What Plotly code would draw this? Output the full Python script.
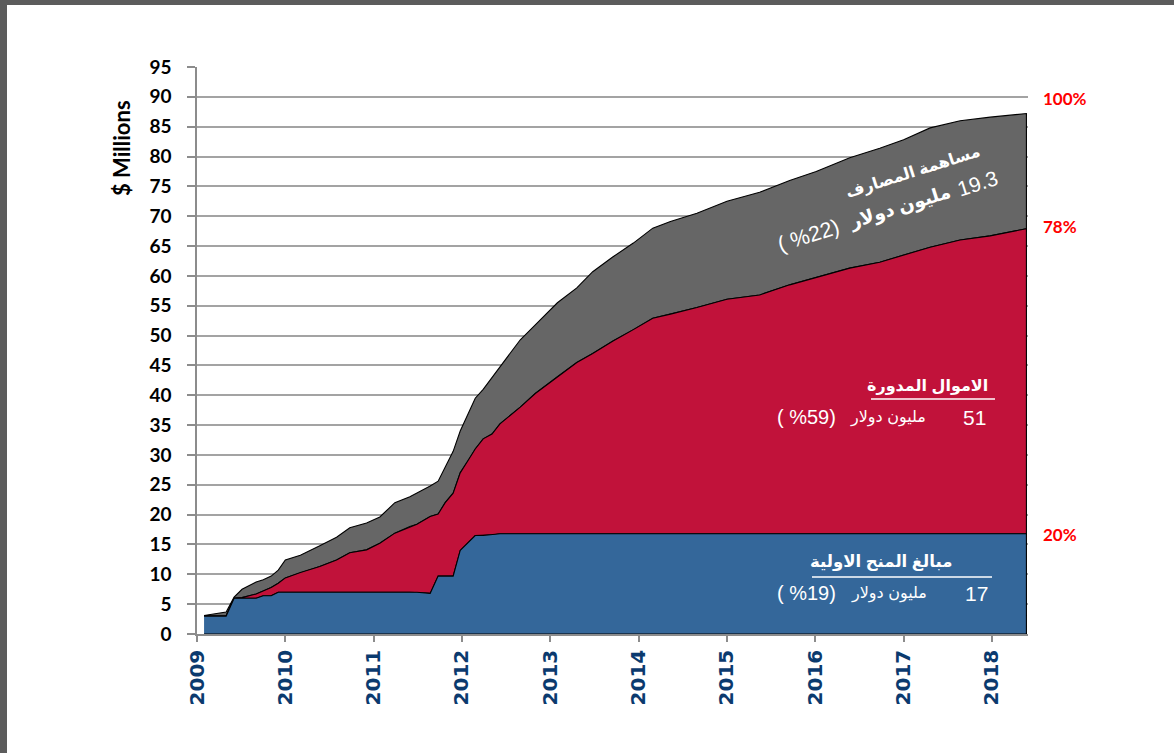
import plotly.graph_objects as go

# ---- data ----
years = [2009.08, 2009.17, 2009.33, 2009.42, 2009.51, 2009.67, 2009.75, 2009.84, 2009.92, 2010.0,
         2010.17, 2010.39, 2010.58, 2010.73, 2010.92, 2011.07, 2011.24, 2011.41, 2011.49, 2011.64,
         2011.73, 2011.81, 2011.90, 2011.98, 2012.07, 2012.15, 2012.24, 2012.34, 2012.43, 2012.66,
         2012.83, 2013.08, 2013.30, 2013.48, 2013.71, 2013.94, 2014.16, 2014.36, 2014.66, 2015.0,
         2015.37, 2015.71, 2016.01, 2016.39, 2016.73, 2017.0, 2017.30, 2017.64, 2017.98, 2018.39]

# cumulative level of the initial grants (blue)
grants_top = [3.0, 3.0, 3.0, 6.0, 6.0, 6.0, 6.4, 6.4, 7.0, 7.0,
              7.0, 7.0, 7.0, 7.0, 7.0, 7.0, 7.0, 7.0, 7.0, 6.8,
              9.7, 9.7, 9.7, 14.0, 15.3, 16.5, 16.5, 16.6, 16.8, 16.8,
              16.8, 16.8, 16.8, 16.8, 16.8, 16.8, 16.8, 16.8, 16.8, 16.8,
              16.8, 16.8, 16.8, 16.8, 16.8, 16.8, 16.8, 16.8, 16.8, 16.8]

# cumulative level incl. revolving funds (red)
revolving_top = [3.0, 3.0, 3.0, 6.0, 6.1, 6.7, 7.2, 7.8, 8.5, 9.4,
                 10.3, 11.3, 12.4, 13.6, 14.1, 15.2, 16.9, 18.0, 18.4, 19.7,
                 20.1, 22.0, 23.6, 27.0, 29.0, 31.0, 32.7, 33.5, 35.2, 38.0,
                 40.3, 43.1, 45.5, 47.0, 49.1, 51.0, 52.9, 53.6, 54.7, 56.1,
                 56.8, 58.5, 59.7, 61.3, 62.3, 63.5, 64.8, 66.0, 66.7, 67.9]

# cumulative level incl. bank contributions (gray)
banks_top = [3.1, 3.3, 3.7, 6.2, 7.5, 8.7, 9.1, 9.7, 10.7, 12.4,
             13.2, 14.8, 16.2, 17.8, 18.6, 19.6, 22.0, 23.0, 23.6, 24.8,
             25.6, 28.0, 30.6, 34.0, 37.0, 39.5, 41.0, 43.0, 44.8, 49.3,
             51.8, 55.5, 58.0, 60.7, 63.2, 65.5, 68.0, 69.1, 70.5, 72.5,
             74.0, 76.0, 77.5, 79.8, 81.4, 82.8, 84.8, 86.0, 86.6, 87.2]

baseline = [0.0] * len(years)

year_ticks = list(range(2009, 2019))
y_ticks = list(range(0, 100, 5))
pct_labels = ["100%", "78%", "20%"]

# ---- layout geometry ----
W, H = 1174, 753
L, R, T, B = 197, 146, 67, 119
PW, PH = W - L - R, H - T - B


def px(x):
    return (x - L) / PW


def py(y):
    return (H - B - y) / PH


fig = go.Figure()


def band(top, bottom, color):
    fig.add_trace(go.Scatter(
        x=years + years[::-1],
        y=top + bottom[::-1],
        fill="toself", fillcolor=color, mode="lines",
        line=dict(color="black", width=1.1),
        hoverinfo="skip", showlegend=False))


band(banks_top, revolving_top, "#666666")
band(revolving_top, grants_top, "#C1123A")
band(grants_top, baseline, "#34679A")

fig.update_layout(
    width=W, height=H,
    margin=dict(l=L, r=R, t=T, b=B),
    paper_bgcolor="white", plot_bgcolor="white",
    showlegend=False,
    xaxis=dict(range=[2009, 2009 + 831 / 88.33], tickvals=year_ticks,
               ticktext=[str(y) for y in year_ticks], tickangle=-90,
               tickfont=dict(family="DejaVu Sans", size=20, color="#0B3A6E", weight="bold"),
               showgrid=False, zeroline=False, showline=True, linecolor="#8C8C8C", linewidth=1.5,
               ticks="outside", ticklen=6, tickcolor="#8C8C8C", tickwidth=1.5),
    yaxis=dict(range=[0, 95], tickvals=y_ticks,
               tickfont=dict(family="Lato", size=19, color="black", weight="bold"),
               showgrid=True, gridcolor="#A3A3A3", gridwidth=2, zeroline=False,
               showline=True, linecolor="#8C8C8C", linewidth=1.5,
               ticks="outside", ticklen=8, tickcolor="#8C8C8C", tickwidth=1.5,
               ticklabelstandoff=12),
)

# Y axis title
fig.add_annotation(x=px(121), y=py(148), xref="paper", yref="paper",
                   xanchor="center", yanchor="middle",
                   text="<b>$ Millions</b>", textangle=-90, showarrow=False,
                   font=dict(family="Lato", size=22, color="black"))

# percent labels on the right
for lbl, ypix in zip(pct_labels, [98, 226, 534]):
    fig.add_annotation(x=px(1041), y=py(ypix), xref="paper", yref="paper",
                       text="<b>" + lbl + "</b>", xanchor="left", yanchor="middle",
                       showarrow=False, font=dict(family="Lato", size=17, color="#FF0000"))

AR = "Liberation Sans, DejaVu Sans"


def note(text, xpix, ypix, size, anchor="center", angle=0):
    fig.add_annotation(x=px(xpix), y=py(ypix), xref="paper", yref="paper",
                       xanchor=anchor, yanchor="middle", showarrow=False,
                       textangle=angle, text=text,
                       font=dict(family=AR, size=size, color="white"))


# Banks contribution (rotated pieces)
ANG = -17.5
note("<b>مساهمة المصارف</b>", 913, 172, 16, angle=ANG)
note("( %22)", 808, 236, 21.5, angle=ANG)
note("<b>مليون دولار</b>", 900, 207, 18.5, angle=ANG)
note("19.3", 977, 183, 21, angle=ANG)

# Revolving funds
note("<b>الاموال المدورة</b>", 990, 386, 16, anchor="right")
note("( %59)", 775, 417, 20, anchor="left")
note("مليون دولار", 928, 417, 16, anchor="right")
note("51", 988, 417, 21, anchor="right")

# Initial grants
note("<b>مبالغ المنح الاولية</b>", 954, 562, 16.5, anchor="right")
note("( %19)", 775, 593, 20, anchor="left")
note("مليون دولار", 929, 593, 16, anchor="right")
note("17", 990, 593, 21, anchor="right")

# underlines
fig.add_shape(type="line", xref="paper", yref="paper", x0=px(871), x1=px(995),
              y0=py(399), y1=py(399), line=dict(color="white", width=1.5))
fig.add_shape(type="line", xref="paper", yref="paper", x0=px(812), x1=px(992),
              y0=py(577), y1=py(577), line=dict(color="white", width=1.5))

# page border (top and left)
fig.add_shape(type="rect", xref="paper", yref="paper", x0=px(0), x1=px(W),
              y0=py(5), y1=py(-2), fillcolor="#5C5C5C", line=dict(width=0))
fig.add_shape(type="rect", xref="paper", yref="paper", x0=px(-2), x1=px(7),
              y0=py(H + 2), y1=py(0), fillcolor="#5C5C5C", line=dict(width=0))

fig.write_html("out.html", config={"displayModeBar": False},
               post_script="document.body.style.margin='0';")
